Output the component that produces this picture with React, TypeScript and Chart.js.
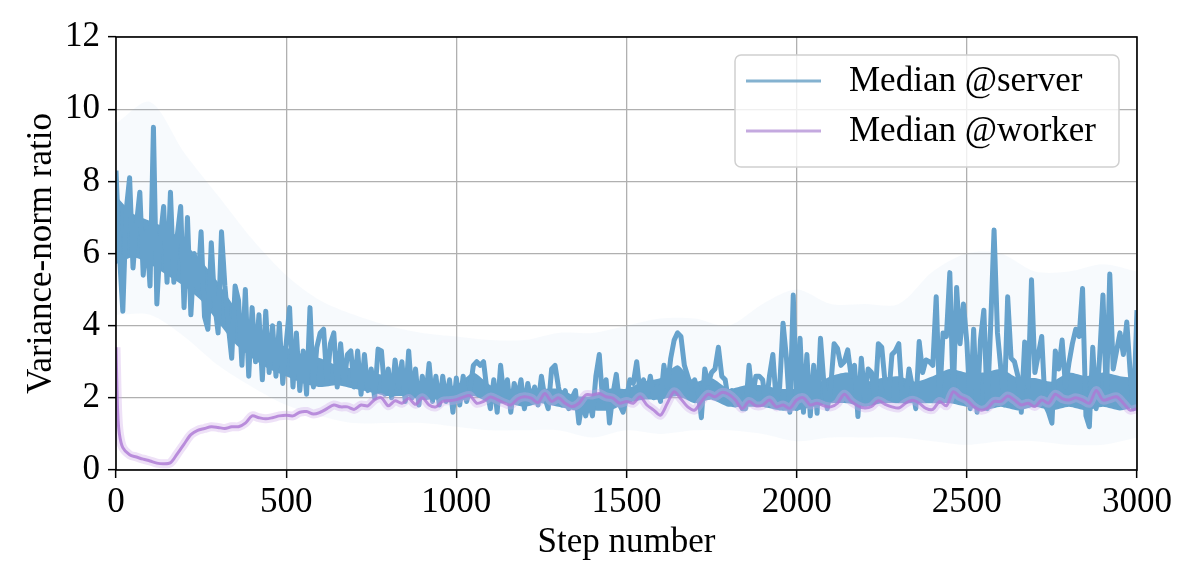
import React, { useEffect, useRef } from 'react';
import { Chart, registerables } from 'chart.js';

Chart.register(...registerables);

const FONT = "'Liberation Serif', 'DejaVu Serif', serif";
const SERVER_BLUE = '#66a2cc';

// median @server, one value every 10 steps (0..3000)
const serverMedian = [
  8.3, 6.0, 4.4, 7.2, 8.1, 5.6, 6.8, 7.7, 5.4, 6.6,
  5.1, 9.5, 4.6, 6.4, 7.3, 5.2, 7.7, 5.2, 6.5, 7.3,
  4.5, 7.0, 4.3, 6.0, 5.0, 6.6, 4.25, 3.9, 6.3, 4.6,
  3.8, 6.6, 5.1, 4.0, 3.1, 5.1, 4.7, 2.9, 5.0, 2.6,
  4.5, 3.0, 4.3, 2.5, 4.4, 2.7, 4.0, 2.6, 4.07, 2.4,
  3.5, 4.5, 2.3, 3.8, 2.2, 3.3, 2.1, 4.5, 2.3, 3.4,
  3.8, 3.9, 2.4, 3.5, 3.8, 2.3, 3.5, 2.4, 3.2, 3.3,
  2.3, 3.3, 2.1, 3.2, 2.2, 2.8, 2.0, 3.35, 3.3, 2.1,
  2.8, 2.0, 3.05, 2.3, 3.0, 1.9, 3.3, 2.0, 2.8, 1.8,
  2.6, 2.0, 2.95, 1.9, 2.6, 1.8, 2.6, 1.9, 2.5, 1.6,
  2.55, 1.8, 2.6, 1.9, 2.2, 2.9, 3.0, 2.9, 3.0, 2.2,
  1.7, 2.5, 1.6, 2.9, 2.0, 2.5, 1.6, 2.4, 2.0, 2.5,
  1.7, 2.4, 1.9, 2.3, 1.8, 2.6, 2.0, 1.7, 2.8, 2.9,
  2.3, 1.8, 2.2, 1.7, 2.0, 2.2, 1.3, 1.9, 1.5, 1.9,
  1.5, 2.6, 3.2, 1.9, 2.5, 1.3, 2.1, 2.65, 1.8, 1.6,
  2.0, 2.5, 2.4, 3.0, 2.1, 2.5, 2.1, 2.6, 2.0, 2.3,
  1.9, 2.9, 2.3, 3.1, 3.6, 3.8, 3.7, 2.9, 2.6, 2.3,
  2.5, 2.2, 1.45, 2.8, 2.4, 2.7, 2.8, 3.4, 2.6, 2.5,
  1.9, 2.2, 1.8, 2.1, 1.7, 1.7, 2.9, 2.0, 2.6, 2.6,
  2.5, 1.8, 2.6, 3.2, 1.9, 2.3, 4.07, 3.1, 1.6, 4.85,
  1.7, 3.65, 1.6, 3.2, 1.5, 2.9, 1.57, 3.65, 2.4, 1.7,
  2.3, 3.5, 3.37, 2.9, 3.0, 3.33, 2.6, 2.9, 1.48, 3.1,
  2.0, 2.8, 2.7, 1.9, 3.5, 3.4, 2.4, 2.0, 3.2, 3.3,
  3.5, 2.0, 1.9, 2.8, 2.3, 1.7, 3.56, 2.7, 3.05, 3.0,
  2.9, 4.8, 1.9, 3.8, 3.7, 5.47, 2.0, 5.06, 3.5, 4.6,
  3.55, 1.7, 3.9, 1.6, 3.6, 4.43, 1.7, 4.0, 6.65, 3.8,
  2.8, 1.8, 4.8, 3.1, 3.0, 2.6, 1.6, 3.55, 2.3, 5.27,
  2.7, 3.2, 3.7, 1.8, 1.6, 1.3, 3.3, 2.8, 3.6, 2.3,
  2.96, 3.5, 3.9, 3.7, 5.03, 1.5, 1.2, 3.4, 1.7, 3.1,
  4.85, 2.0, 5.43, 2.8, 3.3, 3.8, 3.2, 4.1, 2.7, 1.7,
  4.43,
];
const serverSteps = serverMedian.map((_, i) => i * 10);

// solid core that the fast-wiggling server median covers, every 50 steps
const coreSteps = [
  0, 50, 100, 150, 200, 250, 300, 350, 400, 450, 500, 550, 600, 650, 700, 750,
  800, 850, 900, 950, 1000, 1050, 1100, 1150, 1200, 1250, 1300, 1350, 1400, 1450,
  1500, 1550, 1600, 1650, 1700, 1750, 1800, 1850, 1900, 1950, 2000, 2050, 2100,
  2150, 2200, 2250, 2300, 2350, 2400, 2450, 2500, 2550, 2600, 2650, 2700, 2750,
  2800, 2850, 2900, 2950, 3000,
];
const serverCoreHigh = [
  7.6, 7.1, 6.9, 6.7, 6.3, 5.8, 5.2, 4.5, 4.1, 3.7, 3.4, 3.2, 3.1, 2.9, 2.8, 2.7,
  2.6, 2.5, 2.4, 2.35, 2.35, 2.7, 2.35, 2.25, 2.25, 2.25, 2.25, 2.05, 2.05, 2.25,
  2.25, 2.45, 2.55, 2.9, 2.45, 2.55, 2.25, 2.35, 2.35, 2.25, 2.25, 2.35, 2.6,
  2.7, 2.45, 2.55, 2.6, 2.45, 2.6, 2.8, 2.7, 2.7, 2.8, 2.55, 2.55, 2.45,
  2.7, 2.6, 2.7, 2.6, 2.55,
];
const serverCoreLow = [
  5.7, 5.9, 5.7, 5.4, 5.1, 4.7, 4.1, 3.5, 3.1, 2.8, 2.6, 2.4, 2.3, 2.35, 2.25, 2.15,
  2.05, 2.05, 1.95, 1.95, 1.85, 2.05, 1.85, 1.85, 1.75, 1.85, 1.75, 1.65, 1.65, 1.65,
  1.85, 1.95, 1.95, 2.05, 1.85, 1.95, 1.75, 1.75, 1.75, 1.65, 1.65, 1.75, 1.85,
  1.85, 1.75, 1.85, 1.85, 1.85, 1.85, 1.85, 1.75, 1.65, 1.75, 1.65, 1.75, 1.65,
  1.75, 1.65, 1.75, 1.65, 1.75,
];

// faint spread around the server median, every 100 steps
const bandSteps = [
  0, 100, 200, 300, 400, 500, 600, 700, 800, 900, 1000, 1100, 1200, 1300, 1400, 1500,
  1600, 1700, 1800, 1900, 2000, 2100, 2200, 2300, 2400, 2500, 2600, 2700, 2800, 2900, 3000,
];
const serverBandHigh = [
  9.6, 10.2, 8.8, 7.6, 6.4, 5.4, 4.7, 4.3, 4.0, 3.8, 3.7, 3.6, 3.6, 3.8, 3.8, 4.0,
  4.2, 4.2, 4.0, 4.6, 5.0, 4.6, 4.6, 4.6, 5.5, 6.0, 6.0, 5.5, 5.5, 5.7, 5.5,
];
const serverBandLow = [
  4.3, 4.3, 3.7, 2.9, 2.3, 1.8, 1.5, 1.3, 1.3, 1.3, 1.2, 1.1, 1.1, 1.1, 0.9, 1.1,
  1.0, 1.1, 1.1, 1.0, 0.8, 0.9, 0.9, 0.9, 0.8, 0.7, 0.8, 0.8, 0.7, 0.7, 0.9,
];

// median @worker
const workerSteps = [
  0, 5, 10, 20, 40, 60, 80, 100, 120, 140, 160, 180, 200, 220, 240, 260, 280, 300,
  320, 340, 360, 380, 400, 420, 440, 460, 480, 500, 520, 540, 560, 580, 600, 620,
  640, 660, 680, 700, 720, 740, 760, 780, 800, 820, 840, 860, 880, 900, 920, 940,
  960, 980, 1000, 1020, 1040, 1060, 1080, 1100, 1120, 1140, 1160, 1180, 1200, 1220,
  1240, 1260, 1280, 1300, 1320, 1340, 1360, 1380, 1400, 1420, 1440, 1460, 1480, 1500,
  1520, 1540, 1560, 1580, 1600, 1620, 1640, 1660, 1680, 1700, 1720, 1740, 1760, 1780,
  1800, 1820, 1840, 1860, 1880, 1900, 1920, 1940, 1960, 1980, 2000, 2020, 2040, 2060,
  2080, 2100, 2120, 2140, 2160, 2180, 2200, 2220, 2240, 2260, 2280, 2300, 2320, 2340,
  2360, 2380, 2400, 2420, 2440, 2460, 2480, 2500, 2520, 2540, 2560, 2580, 2600, 2620,
  2640, 2660, 2680, 2700, 2720, 2740, 2760, 2780, 2800, 2820, 2840, 2860, 2880, 2900,
  2920, 2940, 2960, 2980, 3000,
];
const workerMedian = [
  3.4, 1.6, 1.0, 0.62, 0.42, 0.36, 0.3, 0.25, 0.19, 0.17, 0.2, 0.45, 0.72, 0.98, 1.1, 1.15, 1.2, 1.18,
  1.15, 1.2, 1.2, 1.3, 1.5, 1.45, 1.42, 1.45, 1.5, 1.52, 1.5, 1.6, 1.62, 1.55, 1.6, 1.7,
  1.8, 1.75, 1.75, 1.68, 1.8, 1.78, 1.95, 2.0, 1.78, 1.92, 1.85, 1.98, 1.82, 2.0, 1.8, 1.75,
  1.9, 1.92, 1.95, 2.02, 2.06, 1.85, 1.9, 2.02, 1.95, 1.86, 1.8, 1.97, 2.03, 1.99,
  1.87, 2.12, 1.9, 2.0, 1.85, 1.76, 1.85, 2.08, 2.08, 2.12, 2.03, 1.99, 1.85, 1.9,
  1.85, 2.03, 1.8, 1.66, 1.52, 1.85, 2.17, 1.97, 1.75, 1.66, 1.9, 2.1, 2.03, 2.15,
  2.1, 1.94, 1.7, 1.9, 1.78, 1.8, 1.94, 1.75, 1.8, 1.71, 1.94, 2.0, 1.8, 1.85,
  1.78, 1.75, 1.85, 2.1, 1.9, 1.78, 1.72, 1.76, 1.92, 1.82, 1.75, 1.72, 1.85, 1.93,
  1.85, 1.71, 1.68, 1.9, 1.78, 2.17, 2.03, 1.94, 1.76, 1.66, 1.71, 1.9, 1.9, 2.05,
  1.94, 1.8, 1.85, 1.76, 1.94, 1.85, 2.1, 1.98, 1.94, 2.0, 1.94, 1.85, 2.2, 1.94,
  1.98, 2.03, 1.85, 1.66, 1.7,
];

const xTicks = [0, 500, 1000, 1500, 2000, 2500, 3000];
const yTicks = [0, 2, 4, 6, 8, 10, 12];

const legendItems = [
  { label: 'Median @server', color: 'rgba(110,165,200,0.85)' },
  { label: 'Median @worker', color: 'rgba(190,160,220,0.9)' },
];

const pts = (xs: number[], ys: number[]) => xs.map((x, i) => ({ x, y: ys[i] }));

// black frame on all four sides + boxed legend in the upper right
const framePlugin = {
  id: 'frameLegend',
  afterDraw(chart: any) {
    const { ctx, chartArea: a } = chart;
    ctx.save();
    ctx.strokeStyle = '#000';
    ctx.lineWidth = 1.6;
    ctx.strokeRect(a.left, a.top, a.right - a.left, a.bottom - a.top);

    const w = 384, h = 112;
    const x = a.right - 18 - w, y = a.top + 18;
    ctx.beginPath();
    ctx.roundRect(x, y, w, h, 6);
    ctx.fillStyle = 'rgba(255,255,255,0.8)';
    ctx.fill();
    ctx.strokeStyle = '#d0d0d0';
    ctx.lineWidth = 1.5;
    ctx.stroke();

    ctx.font = `35px ${FONT}`;
    ctx.textBaseline = 'middle';
    legendItems.forEach((it, i) => {
      const cy = y + 26 + i * 50;
      ctx.beginPath();
      ctx.moveTo(x + 11, cy);
      ctx.lineTo(x + 86, cy);
      ctx.strokeStyle = it.color;
      ctx.lineWidth = 3;
      ctx.stroke();
      ctx.fillStyle = '#000';
      ctx.fillText(it.label, x + 114, cy + 1);
    });
    ctx.restore();
  },
};

const gridStyle = {
  color: '#b0b0b0',
  lineWidth: 1.3,
  tickColor: '#000',
  tickLength: 8,
  tickWidth: 1.5,
};

const hidden = { borderColor: 'rgba(0,0,0,0)', borderWidth: 0, pointRadius: 0 };

export default function App() {
  const canvasRef = useRef<HTMLCanvasElement>(null);

  useEffect(() => {
    document.body.style.margin = '0';
    if (!canvasRef.current) return;
    const chart = new Chart(canvasRef.current, {
      type: 'line',
      data: {
        datasets: [
          {
            label: 'Median @worker',
            data: pts(workerSteps, workerMedian),
            borderColor: 'rgba(172,120,212,0.8)',
            borderWidth: 3,
            pointRadius: 0,
            tension: 0.3,
          },
          {
            label: 'worker spread',
            data: pts(workerSteps, workerMedian),
            borderColor: 'rgba(205,170,232,0.35)',
            borderWidth: 9,
            pointRadius: 0,
            tension: 0.3,
          },
          {
            label: 'Median @server',
            data: pts(serverSteps, serverMedian),
            borderColor: SERVER_BLUE,
            borderWidth: 5,
            borderJoinStyle: 'round',
            pointRadius: 0,
            tension: 0,
          },
          {
            label: 'server core high',
            data: pts(coreSteps, serverCoreHigh),
            ...hidden,
            backgroundColor: SERVER_BLUE,
            fill: '+1',
            tension: 0.2,
          },
          {
            label: 'server core low',
            data: pts(coreSteps, serverCoreLow),
            ...hidden,
            tension: 0.2,
          },
          {
            label: 'server high',
            data: pts(bandSteps, serverBandHigh),
            ...hidden,
            backgroundColor: 'rgba(120,175,215,0.06)',
            fill: '+1',
            tension: 0.3,
          },
          {
            label: 'server low',
            data: pts(bandSteps, serverBandLow),
            ...hidden,
            tension: 0.3,
          },
        ],
      },
      options: {
        animation: false,
        responsive: true,
        maintainAspectRatio: false,
        layout: { padding: { top: 37, right: 59, left: 0, bottom: 0 } },
        plugins: { legend: { display: false }, tooltip: { enabled: false } },
        scales: {
          x: {
            type: 'linear',
            min: 0,
            max: 3000,
            afterBuildTicks: (s: any) => { s.ticks = xTicks.map((v) => ({ value: v })); },
            afterFit: (s: any) => { s.height = 113; },
            ticks: {
              color: '#000',
              font: { family: FONT, size: 35 },
              padding: 4,
              maxRotation: 0,
              callback: (v: any) => String(v),
            },
            grid: gridStyle,
            border: { display: false },
            title: {
              display: true,
              text: 'Step number',
              color: '#000',
              font: { family: FONT, size: 35 },
              padding: { top: 0, bottom: 19 },
            },
          },
          y: {
            min: 0,
            max: 12,
            afterBuildTicks: (s: any) => { s.ticks = yTicks.map((v) => ({ value: v })); },
            afterFit: (s: any) => { s.width = 116; },
            ticks: {
              color: '#000',
              font: { family: FONT, size: 35 },
              padding: 8,
              callback: (v: any) => String(v),
            },
            grid: gridStyle,
            border: { display: false },
            title: {
              display: true,
              text: 'Variance-norm ratio',
              color: '#000',
              font: { family: FONT, size: 35 },
              padding: { top: 21, bottom: 0 },
            },
          },
        },
      },
      plugins: [framePlugin],
    });
    return () => chart.destroy();
  }, []);

  return (
    <div style={{ width: 1196, height: 583, position: 'relative', background: '#fff' }}>
      <canvas ref={canvasRef}></canvas>
    </div>
  );
}
